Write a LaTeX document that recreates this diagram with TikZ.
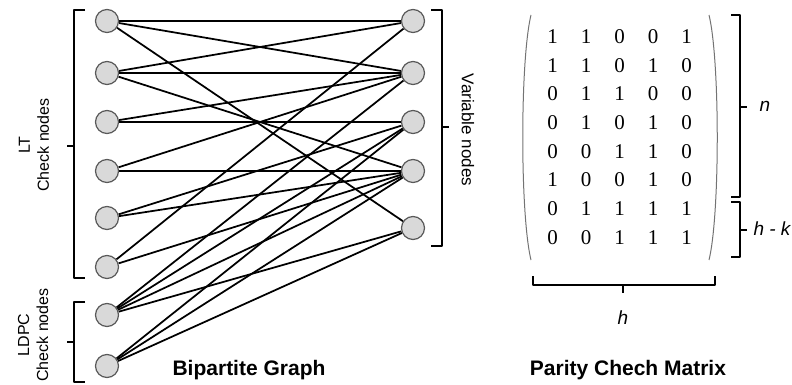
\documentclass[tikz,border=0pt]{standalone}
\usepackage{fontspec}
\setmainfont{Liberation Sans}
\newfontfamily\matdigits{Liberation Serif}
\usetikzlibrary{backgrounds}

\begin{document}
\begin{tikzpicture}[x=1pt,y=-1pt,
  gnode/.style={circle, draw=black!65, fill=black!15, line width=1.2pt,
                minimum size=23pt, inner sep=0pt},
  edge/.style={line width=1.75pt, black},
  brk/.style={line width=1.6pt, black, line join=round},
  paren/.style={line width=1pt, black!55},
  side/.style={font=\fontsize{16}{19}\selectfont, align=center, inner sep=0pt},
  title/.style={font=\fontsize{21}{24}\selectfont\bfseries, inner sep=0pt},
  ent/.style={font=\matdigits\fontsize{21}{24}\selectfont, inner sep=0pt},
  ital/.style={font=\fontsize{19}{22}\selectfont\itshape, inner sep=0pt}
]
\useasboundingbox (0,0) rectangle (792,385);

% check nodes (left column)
\foreach \i/\y in {1/21,2/73,3/122,4/171,5/218,6/267,7/315,8/366}
  \node[gnode] (c\i) at (107,\y) {};
% variable nodes (right column)
\foreach \j/\y in {1/21,2/73,3/122,4/171,5/228}
  \node[gnode] (v\j) at (413,\y) {};

% edges, one per nonzero entry of the parity check matrix
\begin{scope}[on background layer]
  \foreach \i/\j in {1/1,1/2,1/5, 2/1,2/2,2/4, 3/2,3/3, 4/2,4/4,
                     5/3,5/4, 6/1,6/4, 7/2,7/3,7/4,7/5, 8/3,8/4,8/5}
    \draw[edge] (c\i) -- (v\j);
\end{scope}

% brackets around the node groups
\draw[brk] (85,10) -- (74,10) -- (74,278) -- (85,278);
\draw[brk] (74,146) -- (67,146);
\draw[brk] (85,302) -- (74,302) -- (74,382) -- (85,382);
\draw[brk] (74,342) -- (67,342);
\draw[brk] (431,10) -- (442,10) -- (442,246) -- (431,246);
\draw[brk] (442,127) -- (449,127);

\node[side, rotate=90] (ltlab) at (34,145) {LT\\Check nodes};
\node[side, rotate=90] (ldpclab) at (33,335) {LDPC\\Check nodes};
\node[side, rotate=-90, font=\fontsize{17}{20}\selectfont] (varlab) at (468,130) {Variable nodes};
\node[title] (gtitle) at (249,370) {Bipartite Graph};

% parity check matrix
\foreach \r/\y/\row in {1/37/{1,1,0,0,1},2/66/{1,1,0,1,0},3/94/{0,1,1,0,0},
                        4/123/{0,1,0,1,0},5/152/{0,0,1,1,0},6/180/{1,0,0,1,0},
                        7/209/{0,1,1,1,1},8/238/{0,0,1,1,1}}
  \foreach \v [count=\c] in \row {
    \pgfmathsetmacro{\xx}{519+33.5*\c}
    \node[ent] (m\r-\c) at (\xx,\y) {\v};
  }
\draw[paren] (531,15) .. controls (520,60) and (520,215) .. (531,260);
\draw[paren] (709,15) .. controls (720,60) and (720,215) .. (709,260);

\draw[brk] (731,15) -- (740,15) -- (740,197) -- (731,197);
\draw[brk] (740,107) -- (747,107);
\draw[brk] (731,202) -- (740,202) -- (740,257) -- (731,257);
\draw[brk] (740,230) -- (747,230);
\draw[brk] (533,276) -- (533,285) -- (715,285) -- (715,276);
\draw[brk] (623,285) -- (623,293);

\node[ital] (nlab) at (765,106) {n};
\node[ital] (hklab) at (772,229) {h - k};
\node[ital] (hlab) at (623,318) {h};
\node[title] (mtitle) at (628,370) {Parity Chech Matrix};
\end{tikzpicture}
\end{document}
